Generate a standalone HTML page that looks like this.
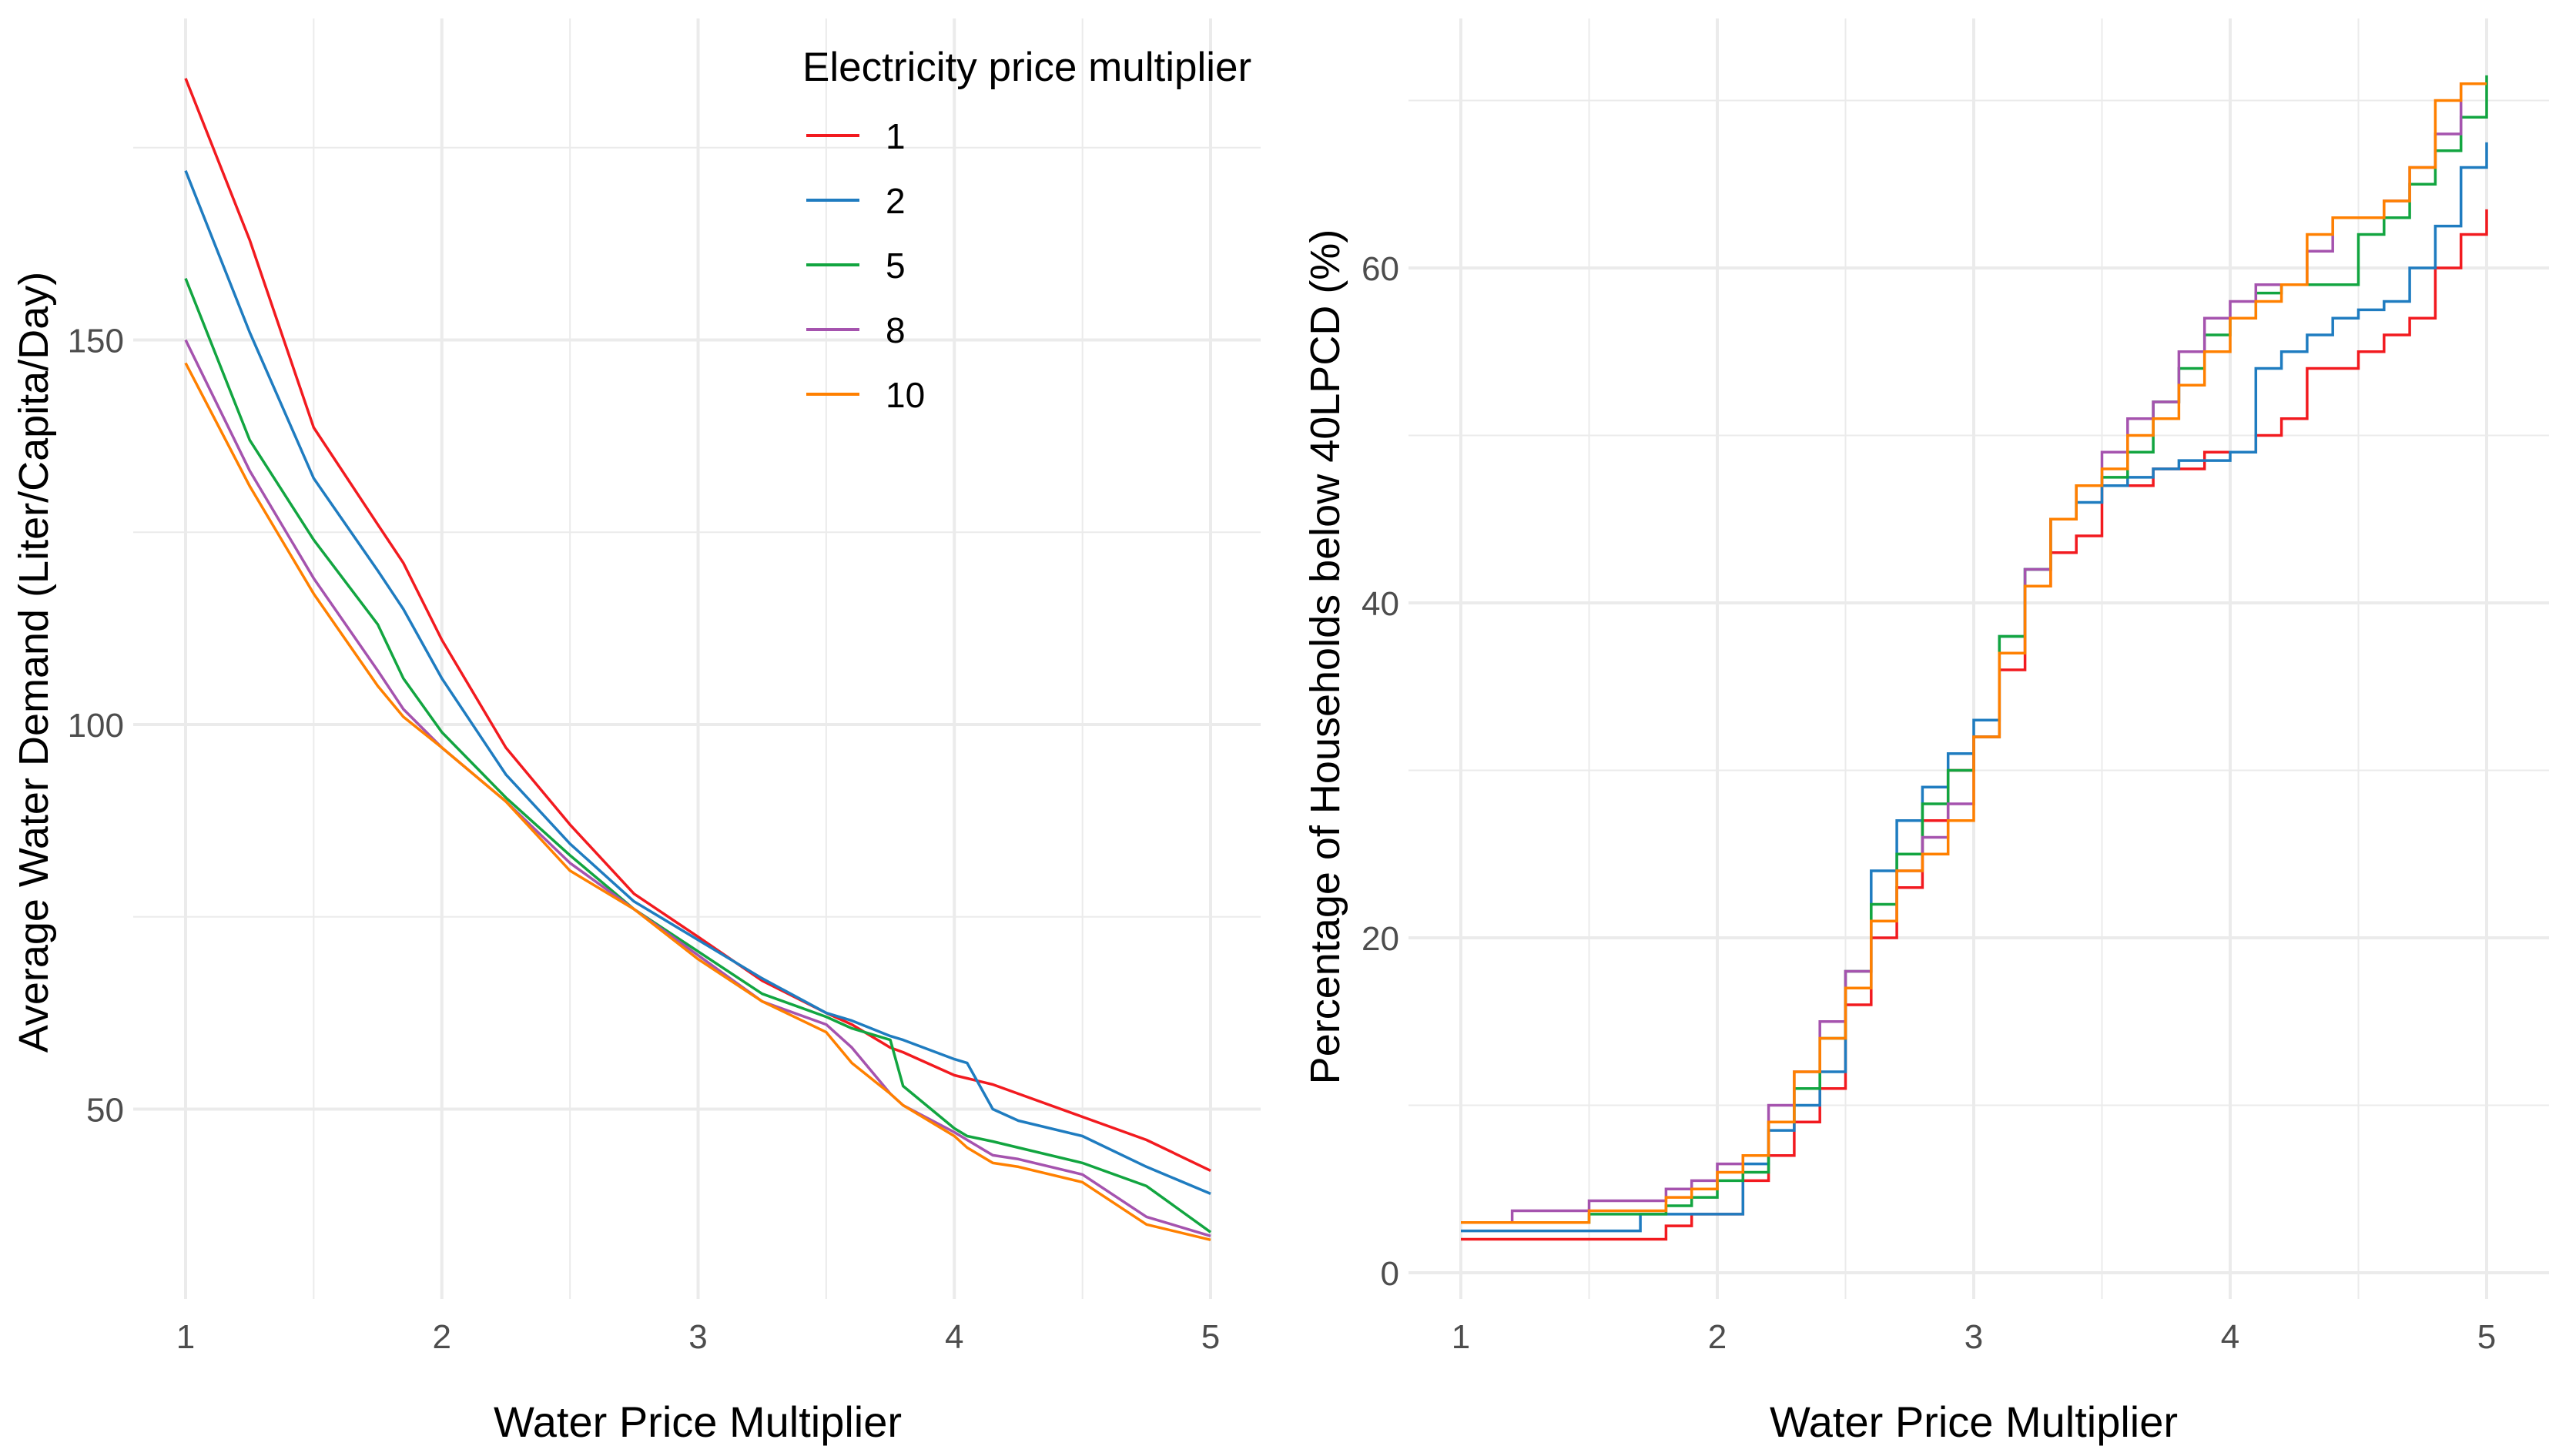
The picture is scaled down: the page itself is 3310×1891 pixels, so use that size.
<!DOCTYPE html>
<html><head><meta charset="utf-8"><style>
html,body{margin:0;padding:0;background:#fff;}
svg{display:block;font-family:"Liberation Sans",Arial,sans-serif;}
</style></head><body>
<svg id="chart" width="3310" height="1891" viewBox="0 0 3310 1891" xmlns="http://www.w3.org/2000/svg">
<g id="left-panel"></g>
<g id="right-panel"></g>
<g id="legend"></g>
</svg>
<script>
const seriesNames = ["1","2","5","8","10"];
const seriesColors = ["#F21A1F","#1F7CC0","#12A540","#A553AE","#FF8000"];
const xTickLabels = ["1","2","3","4","5"];
const leftYTicks = [50,100,150];
const rightYTicks = [0,20,40,60];

const demandX = [1,1.25,1.5,1.75,1.85,2,2.25,2.5,2.75,3,3.25,3.5,3.6,3.75,3.8,4,4.05,4.15,4.25,4.5,4.75,5];
const demand1 = [184,163,138.6,126,121,111,97,87,78,72.4,66.7,62.5,61,58,57.4,54.4,54,53.2,52,49,46,42];
const demand2 = [172,151,132,120,115,106,93.5,84.5,77,72,67,62.5,61.5,59.5,59,56.5,56,50,48.5,46.5,42.5,39];
const demand5 = [158,137,124,113,106,99,90.5,83,76,70.5,65,62,60.5,59,53,47.5,46.5,45.8,45,43,40,34];
const demand8 = [150,133,119,107,102,97,90,82,76,70,64,61,58,52,50.5,47,46,44,43.5,41.5,36,33.5];
const demand10 = [147,131,117,105,101,97,90,81,76,69.5,64,60,56,52,50.5,46.5,45,43,42.5,40.5,35,33];

const pctX = [1,1.2,1.4,1.5,1.7,1.8,1.9,2,2.1,2.2,2.3,2.4,2.5,2.6,2.7,2.8,2.9,3,3.1,3.2,3.3,3.4,3.5,3.6,3.7,3.8,3.9,4,4.1,4.2,4.3,4.4,4.5,4.6,4.7,4.8,4.9,5];
const pct1 = [2,2,2,2,2,2.8,3.5,3.5,5.5,7,9,11,16,20,23,27,30,32,36,41,43,44,47,47,48,48,49,49,50,51,54,54,55,56,57,60,62,63.5];
const pct2 = [2.5,2.5,2.5,2.5,3.5,3.5,3.5,3.5,6.5,8.5,10,12,17,24,27,29,31,33,38,42,45,46,47,47.5,48,48.5,48.5,49,54,55,56,57,57.5,58,60,62.5,66,67.5];
const pct5 = [3,3,3,3.5,3.5,4,4.5,5.5,6,9,11,14,18,22,25,28,30,32,38,42,45,47,47.5,49,52,54,56,57,58.5,59,59,59,62,63,65,67,69,71.5];
const pct8 = [3,3.7,3.7,4.3,4.3,5,5.5,6.5,7,10,12,15,18,21,24,26,28,32,37,42,45,47,49,51,52,55,57,58,59,59,61,63,63,64,66,68,71,71];
const pct10 = [3,3,3,3.7,3.7,4.5,5,6,7,9,12,14,17,21,24,25,27,32,37,41,45,47,48,50,51,53,55,57,58,59,62,63,63,64,66,70,71,71];

const NS="http://www.w3.org/2000/svg";
function mk(tag,attrs,parent){const e=document.createElementNS(NS,tag);for(const k in attrs)e.setAttribute(k,attrs[k]);parent.appendChild(e);return e;}

// left axes
const lx = v => 241 + (v-1)*(1572-241)/4;
const ly = v => 941 - (v-100)*(499.5/50);
// right axes
const rx = v => 1897 + (v-1)*(3229-1897)/4;
const ry = v => 1653 - v*21.75;

const GRID="#EBEBEB";
function panel(g, xs, ys, x0, x1, y0, y1, yTicks, yMinor, xMinor){
  yMinor.forEach(v=>{const l=mk('line',{x1:x0,x2:x1,y1:ys(v),y2:ys(v),stroke:GRID,'stroke-width':2},g);
    });
  xMinor.forEach(v=>{const l=mk('line',{x1:xs(v),x2:xs(v),y1:y0,y2:y1,stroke:GRID,'stroke-width':2},g);
    });
  yTicks.forEach(v=>{const l=mk('line',{x1:x0,x2:x1,y1:ys(v),y2:ys(v),stroke:GRID,'stroke-width':4},g);
    });
  xTickLabels.forEach(t=>{const v=+t;const l=mk('line',{x1:xs(v),x2:xs(v),y1:y0,y2:y1,stroke:GRID,'stroke-width':4},g);
    });
  xTickLabels.forEach(t=>{const e=mk('text',{x:xs(+t),y:1751,'text-anchor':'middle','font-size':44,fill:'#4D4D4D'},g);e.textContent=t;
    });
  yTicks.forEach(v=>{const e=mk('text',{x:x0-12,y:ys(v)+16,'text-anchor':'end','font-size':44,fill:'#4D4D4D'},g);e.textContent=String(v);
    });
}

const L=document.getElementById('left-panel');
panel(L,lx,ly,173,1637,24,1687,leftYTicks,[75,125,175],[1.5,2.5,3.5,4.5]);
const R=document.getElementById('right-panel');
panel(R,rx,ry,1829,3310,24,1687,rightYTicks,[10,30,50,70],[1.5,2.5,3.5,4.5]);

const demand=[demand1,demand2,demand5,demand8,demand10];
demand.forEach((arr,i)=>{
  const pts=arr.map((v,j)=>lx(demandX[j]).toFixed(1)+','+ly(v).toFixed(1)).join(' ');
  const p=mk('polyline',{points:pts,fill:'none',stroke:seriesColors[i],'stroke-width':3.5,'stroke-linejoin':'round'},L);
  
  
});
const pct=[pct1,pct2,pct5,pct8,pct10];
pct.forEach((arr,i)=>{
  let pts=[];
  arr.forEach((v,j)=>{
    if(j>0) pts.push(rx(pctX[j]).toFixed(1)+','+ry(arr[j-1]).toFixed(1));
    pts.push(rx(pctX[j]).toFixed(1)+','+ry(v).toFixed(1));
  });
  const p=mk('polyline',{points:pts.join(' '),fill:'none',stroke:seriesColors[i],'stroke-width':3.5},R);
  
  
});

// axis titles
let t=mk('text',{x:906,y:1866,'text-anchor':'middle','font-size':56,fill:'#000'},L);t.textContent='Water Price Multiplier';

t=mk('text',{x:0,y:0,'text-anchor':'middle','font-size':54,fill:'#000',transform:'translate(62,860) rotate(-90)'},L);t.textContent='Average Water Demand (Liter/Capita/Day)';

t=mk('text',{x:2563,y:1866,'text-anchor':'middle','font-size':56,fill:'#000'},R);t.textContent='Water Price Multiplier';

t=mk('text',{x:0,y:0,'text-anchor':'middle','font-size':54,fill:'#000',transform:'translate(1739,853) rotate(-90)'},R);t.textContent='Percentage of Households below 40LPCD (%)';


// legend
const G=document.getElementById('legend');
t=mk('text',{x:1042,y:105,'font-size':53,fill:'#000'},G);t.textContent='Electricity price multiplier';

seriesNames.forEach((n,i)=>{
  const y=176+i*84;
  const l=mk('line',{x1:1047,x2:1116,y1:y,y2:y,stroke:seriesColors[i],'stroke-width':4},G);
  
  
  const e=mk('text',{x:1150,y:y+17,'font-size':46,fill:'#000'},G);e.textContent=n;
  
  
});
</script>
</body></html>
